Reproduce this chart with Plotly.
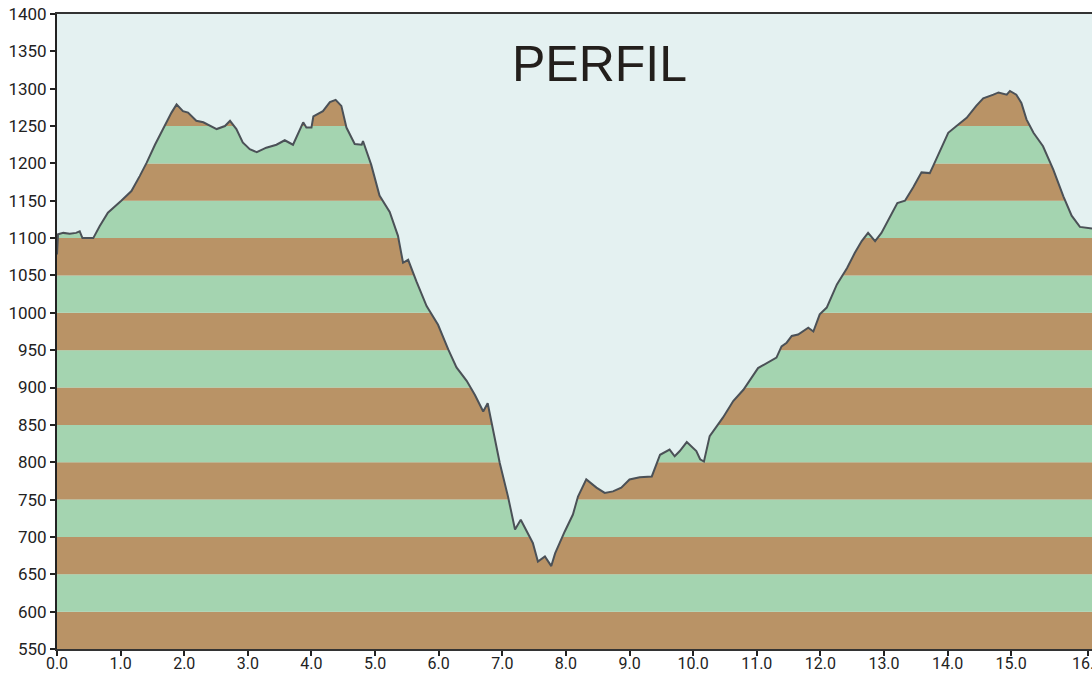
import plotly.graph_objects as go

dist = [0.0, 0.016, 0.10, 0.20, 0.30, 0.357, 0.40, 0.57, 0.67, 0.80, 1.01, 1.17, 1.30, 1.41,
        1.54, 1.69, 1.80, 1.88, 1.98, 2.06, 2.19, 2.30, 2.51, 2.64, 2.72, 2.82, 2.92, 3.03,
        3.14, 3.29, 3.45, 3.58, 3.71, 3.87, 3.92, 4.00, 4.03, 4.18, 4.29, 4.38, 4.47, 4.55,
        4.68, 4.79, 4.81, 4.94, 5.07, 5.23, 5.36, 5.44, 5.52, 5.65, 5.81, 5.99, 6.15, 6.28,
        6.44, 6.57, 6.70, 6.77, 6.84, 6.96, 7.09, 7.20, 7.29, 7.41, 7.48, 7.56, 7.67, 7.77,
        7.83, 7.98, 8.11, 8.19, 8.32, 8.48, 8.61, 8.74, 8.87, 9.00, 9.16, 9.35, 9.48, 9.63,
        9.71, 9.79, 9.90, 10.05, 10.11, 10.17, 10.26, 10.37, 10.47, 10.63, 10.79, 11.02,
        11.31, 11.39, 11.47, 11.55, 11.65, 11.81, 11.89, 11.99, 12.10, 12.26, 12.42, 12.54,
        12.65, 12.75, 12.86, 12.96, 13.08, 13.21, 13.33, 13.46, 13.59, 13.72, 13.77, 13.91,
        14.01, 14.14, 14.30, 14.45, 14.56, 14.72, 14.80, 14.93, 14.98, 15.08, 15.16, 15.24,
        15.35, 15.50, 15.66, 15.82, 15.95, 16.08, 16.21, 16.27]
elev = [1078, 1105, 1107, 1106, 1107, 1109, 1100, 1100, 1116, 1134, 1150, 1163, 1183, 1201,
        1225, 1250, 1268, 1279, 1270, 1268, 1257, 1255, 1246, 1250, 1257, 1246, 1228, 1219,
        1215, 1221, 1225, 1231, 1225, 1255, 1248, 1248, 1263, 1270, 1282, 1285, 1277, 1248,
        1226, 1225, 1230, 1198, 1157, 1135, 1103, 1067, 1071, 1042, 1009, 984, 951, 927,
        909, 890, 868, 879, 850, 799, 754, 710, 723, 703, 692, 667, 674, 661,
        678, 707, 730, 754, 777, 766, 759, 761, 766, 777, 780, 781, 810, 817,
        808, 815, 827, 815, 804, 801, 835, 848, 860, 882, 897, 926,
        940, 955, 960, 969, 971, 980, 975, 998, 1007, 1038, 1060, 1080,
        1096, 1107, 1096, 1107, 1127, 1147, 1150, 1168, 1188, 1187, 1196, 1223,
        1241, 1250, 1261, 1277, 1287, 1292, 1295, 1292, 1297, 1292, 1281, 1259,
        1241, 1223, 1192, 1156, 1130, 1115, 1113, 1113]

# Elevation bands (m) and alternating colours
band_edges = list(range(550, 1401, 50))
band_colors = ["#B99366", "#A4D4B0"]

x_tickvals = [0, 1, 2, 3, 4, 5, 6, 7, 8, 9, 10, 11, 12, 13, 14, 15, 16.2]
x_ticktext = ["0.0", "1.0", "2.0", "3.0", "4.0", "5.0", "6.0", "7.0", "8.0", "9.0",
              "10.0", "11.0", "12.0", "13.0", "14.0", "15.0", "16.2"]
y_tickvals = list(range(550, 1401, 50))

SKY = "#E4F1F1"
LINE = "#4B5157"
Y_MIN, Y_MAX = 550, 1400
X_MAX = 16.27

shapes = []
for i in range(len(band_edges) - 1):
    shapes.append(dict(type="rect", xref="paper", yref="y", x0=0, x1=1,
                       y0=band_edges[i], y1=band_edges[i + 1],
                       fillcolor=band_colors[i % 2], line=dict(width=0), layer="below"))

fig = go.Figure()
fig.add_trace(go.Scatter(x=dist, y=[Y_MAX] * len(dist), mode="lines",
                         line=dict(width=0, color=SKY), hoverinfo="skip", showlegend=False))
fig.add_trace(go.Scatter(x=dist, y=elev, mode="lines", fill="tonexty", fillcolor=SKY,
                         line=dict(color=LINE, width=2), showlegend=False))

fig.add_annotation(text="PERFIL", xref="paper", yref="paper", x=0.524, y=0.922,
                   xanchor="center", yanchor="middle", showarrow=False,
                   font=dict(family="Liberation Sans", size=50, color="#231F1C"))

ytickfont = dict(family="Roboto", size=17, color="#222222")
xtickfont = dict(family="Roboto", size=16, color="#222222")
fig.update_layout(
    width=1092, height=675,
    margin=dict(l=57, r=0, t=14, b=26),
    paper_bgcolor="white", plot_bgcolor=SKY,
    shapes=shapes,
    xaxis=dict(range=[0, X_MAX], tickvals=x_tickvals, ticktext=x_ticktext,
               ticks="outside", ticklen=5, tickwidth=2, tickcolor="#222222",
               showline=True, linecolor="#333333", linewidth=2, mirror=True,
               showgrid=False, zeroline=False, tickfont=xtickfont,
               automargin=False, ticklabeloverflow="allow", ticklabelstandoff=-6),
    yaxis=dict(range=[Y_MIN, Y_MAX], tickvals=y_tickvals,
               ticks="outside", ticklen=5, tickwidth=2, tickcolor="#222222",
               showline=True, linecolor="#222222", linewidth=2,
               showgrid=False, zeroline=False, tickfont=ytickfont,
               automargin=False),
)

fig.write_html("out.html", config={"displayModeBar": False},
               post_script="document.body.style.margin='0';")
